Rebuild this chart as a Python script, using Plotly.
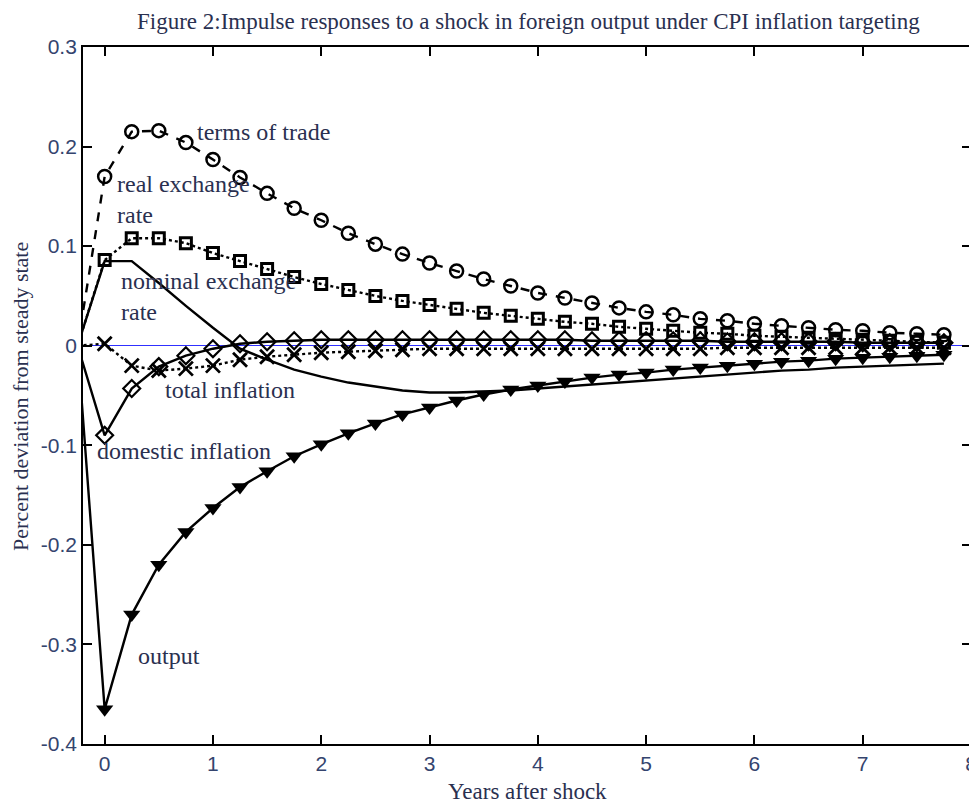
import plotly.graph_objects as go

# quarterly horizon (years); first point is the pre-shock steady state
t_pre = -0.25
years = [i * 0.25 for i in range(32)]

terms_of_trade = [0.170, 0.215, 0.216, 0.204, 0.187, 0.169, 0.153, 0.138, 0.126, 0.113,
                  0.102, 0.092, 0.083, 0.075, 0.067, 0.060, 0.053, 0.048, 0.043, 0.038,
                  0.034, 0.031, 0.027, 0.025, 0.022, 0.020, 0.018, 0.016, 0.015, 0.013,
                  0.012, 0.011]
real_exchange_rate = [0.086, 0.108, 0.108, 0.103, 0.093, 0.085, 0.077, 0.069, 0.062, 0.056,
                      0.050, 0.045, 0.041, 0.037, 0.033, 0.030, 0.027, 0.024, 0.022, 0.019,
                      0.017, 0.015, 0.013, 0.012, 0.010, 0.009, 0.008, 0.007, 0.006, 0.005,
                      0.004, 0.003]
nominal_exchange_rate = [0.085, 0.085, 0.063, 0.040, 0.018, -0.003, -0.014, -0.024, -0.031, -0.037,
                         -0.041, -0.045, -0.047, -0.047, -0.046, -0.045, -0.043, -0.041, -0.039, -0.037,
                         -0.035, -0.033, -0.031, -0.029, -0.027, -0.025, -0.024, -0.022, -0.021, -0.020,
                         -0.019, -0.018]
total_inflation = [0.002, -0.020, -0.025, -0.023, -0.020, -0.014, -0.011, -0.009, -0.007, -0.006,
                   -0.005, -0.004, -0.003, -0.003, -0.003, -0.003, -0.003, -0.003, -0.003, -0.003,
                   -0.003, -0.003, -0.003, -0.002, -0.002, -0.002, -0.002, -0.002, -0.002, -0.002,
                   -0.002, -0.002]
domestic_inflation = [-0.090, -0.043, -0.021, -0.010, -0.003, 0.002, 0.004, 0.005, 0.006, 0.006,
                      0.006, 0.006, 0.006, 0.006, 0.006, 0.006, 0.006, 0.006, 0.005, 0.005,
                      0.005, 0.005, 0.005, 0.004, 0.004, 0.004, 0.004, 0.004, 0.003, 0.003,
                      0.003, 0.003]
output = [-0.365, -0.270, -0.220, -0.187, -0.163, -0.142, -0.126, -0.111, -0.099, -0.088,
          -0.078, -0.069, -0.062, -0.055, -0.049, -0.044, -0.040, -0.036, -0.032, -0.029,
          -0.027, -0.024, -0.022, -0.020, -0.018, -0.016, -0.015, -0.013, -0.012, -0.011,
          -0.010, -0.009]

y_ticks = [0.3, 0.2, 0.1, 0, -0.1, -0.2, -0.3, -0.4]
y_tick_labels = ["0.3", "0.2", "0.1", "0", "-0.1", "-0.2", "-0.3", "-0.4"]
x_ticks = [0, 1, 2, 3, 4, 5, 6, 7, 8]

labels = [
    ("terms of trade", 0.83, 0.215),
    ("real exchange<br>rate", 0.10, 0.147),
    ("nominal exchange<br>rate", 0.13, 0.049),
    ("total inflation", 0.54, -0.044),
    ("domestic inflation", -0.09, -0.106),
    ("output", 0.29, -0.312),
]

SERIF = "Liberation Serif, Times New Roman, serif"
SANS = "Liberation Sans, Arial, sans-serif"
TXT = "#2a3050"
TICK = "#34446e"

fig = go.Figure()

series = [
    (terms_of_trade, "dash", "circle-open", 13, 2.5),
    (real_exchange_rate, "dot", "square-open", 11, 3),
    (nominal_exchange_rate, "solid", None, 0, 0),
    (total_inflation, "dot", "x-thin-open", 14, 2.8),
    (domestic_inflation, "solid", "diamond-open", 13, 2.2),
    (output, "solid", "triangle-down", 15, 0),
]

for vals, dash, sym, size, mlw in series:
    fig.add_trace(go.Scatter(
        x=[t_pre] + years, y=[0.0] + vals, mode="lines",
        line=dict(color="black", width=2.4, dash=dash),
        showlegend=False, hoverinfo="skip"))
    if sym:
        fig.add_trace(go.Scatter(
            x=years, y=vals, mode="markers",
            marker=dict(symbol=sym, size=size, color="black",
                        line=dict(color="black", width=mlw)),
            showlegend=False, cliponaxis=True))

for txt, x, y in labels:
    fig.add_annotation(x=x, y=y, text=txt, showarrow=False, xanchor="left",
                       yanchor="middle", align="left",
                       font=dict(family=SERIF, size=24, color=TXT))

# axis titles as paper-anchored text
fig.add_annotation(xref="paper", yref="paper", x=0.5, y=0, yshift=-47,
                   text="Years after shock", showarrow=False,
                   xanchor="center", yanchor="middle",
                   font=dict(family=SERIF, size=23, color=TXT))
fig.add_annotation(xref="paper", yref="paper", x=0, y=0.498, xshift=-62,
                   text="Percent deviation from steady state", showarrow=False,
                   textangle=-90, xanchor="center", yanchor="middle",
                   font=dict(family=SERIF, size=22, color=TXT))

# the page body adds an 8 px offset, so the figure is 8 px smaller each way
fig.update_layout(
    width=969, height=798,
    paper_bgcolor="white", plot_bgcolor="white",
    margin=dict(l=75, r=6, t=39, b=62),
    title=dict(text="Figure 2:Impulse responses to a shock in foreign output under CPI inflation targeting",
               x=0.537, xanchor="center", y=0.984, yanchor="middle",
               font=dict(family=SERIF, size=23, color=TXT)),
    font=dict(family=SERIF, color=TXT),
)
fig.update_xaxes(range=[-0.2, 8], tickvals=x_ticks, ticks="inside", ticklen=9,
                 tickcolor="black", tickwidth=1.5, showgrid=False, zeroline=False,
                 showline=True, linecolor="black", linewidth=1.8, mirror="ticks",
                 automargin=False,
                 tickfont=dict(family=SANS, size=21, color=TICK))
fig.update_yaxes(range=[-0.4, 0.3], tickvals=y_ticks, ticktext=y_tick_labels,
                 ticks="inside", ticklen=9, tickcolor="black", tickwidth=1.5,
                 showgrid=False, zeroline=True, zerolinecolor="#3030ff", zerolinewidth=1.2,
                 showline=True, linecolor="black", linewidth=1.8, mirror="ticks",
                 automargin=False,
                 tickfont=dict(family=SANS, size=21, color=TICK))

fig.write_html("out.html")
